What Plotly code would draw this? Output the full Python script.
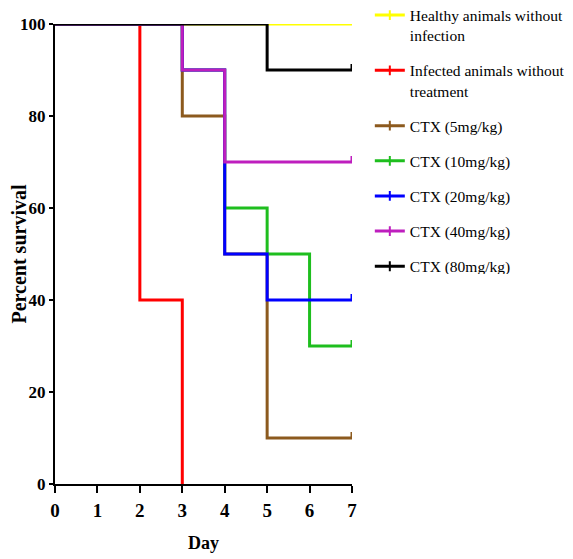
import plotly.graph_objects as go

# ---- data ----
series_names = [
    "Healthy animals without<br>infection",
    "Infected animals without<br>treatment",
    "CTX (5mg/kg)",
    "CTX (10mg/kg)",
    "CTX (20mg/kg)",
    "CTX (40mg/kg)",
    "CTX (80mg/kg)",
]
healthy_days = [0, 7]
healthy_surv = [100, 100]
infected_days = [0, 2, 3]
infected_surv = [100, 40, 0]
ctx5_days = [0, 3, 4, 5, 7]
ctx5_surv = [100, 80, 50, 10, 10]
ctx10_days = [0, 3, 4, 5, 6, 7]
ctx10_surv = [100, 90, 60, 50, 30, 30]
ctx20_days = [0, 3, 4, 5, 7]
ctx20_surv = [100, 90, 50, 40, 40]
ctx40_days = [0, 3, 4, 7]
ctx40_surv = [100, 90, 70, 70]
ctx80_days = [0, 5, 7]
ctx80_surv = [100, 90, 90]

x_ticks = [0, 1, 2, 3, 4, 5, 6, 7]
y_ticks = [0, 20, 40, 60, 80, 100]

colors = ["#FFFF00", "#FF0000", "#8C5A1E", "#1EBE1E", "#0000FF", "#BE1EBE", "#000000"]
all_days = [healthy_days, infected_days, ctx5_days, ctx10_days, ctx20_days, ctx40_days, ctx80_days]
all_surv = [healthy_surv, infected_surv, ctx5_surv, ctx10_surv, ctx20_surv, ctx40_surv, ctx80_surv]

FONT = "Liberation Serif"
CENSOR_H = 1.3  # height of censor tick (style)

fig = go.Figure()

for name, col, d, s in zip(series_names, colors, all_days, all_surv):
    xs = list(d)
    ys = list(s)
    if ys[-1] > 0:
        xs.append(xs[-1])
        ys.append(ys[-1] + CENSOR_H)
    fig.add_trace(go.Scatter(
        x=xs, y=ys, mode="lines", line=dict(color=col, width=3, shape="hv"),
        showlegend=False, cliponaxis=False, hoverinfo="skip",
    ))

for name, col in zip(series_names, colors):
    fig.add_trace(go.Scatter(
        x=[None], y=[None], mode="lines+markers", name=name,
        line=dict(color=col, width=3),
        marker=dict(symbol="line-ns", size=7, color=col, line=dict(color=col, width=2)),
        legendgroup=name,
    ))

fig.update_layout(
    width=565, height=551,
    margin=dict(l=47, r=221, t=16, b=75, autoexpand=False),
    plot_bgcolor="white", paper_bgcolor="white",
    font=dict(family=FONT, color="black"),
    showlegend=True,
    legend=dict(
        x=1.06, xanchor="left", y=1.0555, yanchor="top",
        font=dict(family=FONT, size=15.5, color="black"),
        valign="top", tracegroupgap=12, bgcolor="rgba(0,0,0,0)",
    ),
    xaxis=dict(
        range=[0, 7], tickvals=x_ticks, ticktext=[str(v) for v in x_ticks],
        showgrid=False, zeroline=False, showline=True, linecolor="black", linewidth=2,
        ticks="outside", ticklen=7, tickwidth=2, tickcolor="black",
        tickfont=dict(family=FONT, size=19, color="black", weight="bold"),
        ticklabelstandoff=1,
        title=dict(text="<b>Day</b>", font=dict(family=FONT, size=18, color="black"), standoff=17),
        automargin=False,
    ),
    yaxis=dict(
        range=[0, 100], tickvals=y_ticks, ticktext=[str(v) for v in y_ticks],
        showgrid=False, zeroline=False, showline=True, linecolor="black", linewidth=2,
        ticks="outside", ticklen=4, tickwidth=2, tickcolor="black",
        tickfont=dict(family=FONT, size=17, color="black", weight="bold"),
        ticklabelstandoff=0,
        title=dict(text="<b>Percent survival</b>", font=dict(family=FONT, size=20, color="black"), standoff=18),
        automargin=False,
    ),
)

fig.write_html("out.html")
